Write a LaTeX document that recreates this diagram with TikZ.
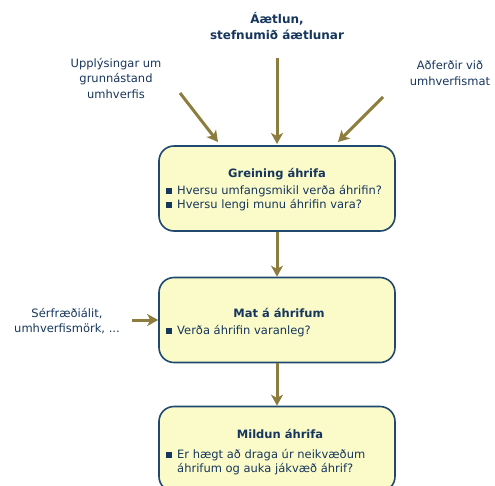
\documentclass[tikz,border=0pt]{standalone}
\usepackage{fontspec}
\setmainfont{DejaVu Sans}
\usetikzlibrary{arrows.meta}
\definecolor{navy}{RGB}{23,54,93}
\definecolor{boxline}{RGB}{31,73,110}
\definecolor{boxfill}{RGB}{250,251,200}
\definecolor{olive}{RGB}{140,125,62}
\tikzset{
  box/.style={draw=boxline, line width=1.6pt, fill=boxfill, rounded corners=15pt, minimum width=236pt, minimum height=85pt, inner sep=0pt},
  arr/.style={draw=olive, line width=3pt, -{Stealth[length=11pt,width=12pt,inset=3pt]}},
  lbl/.style={text=navy, font=\fontsize{11.5}{15.5}\selectfont, align=center, inner sep=0pt},
  ttl/.style={text=navy, font=\fontsize{11.5}{15.5}\selectfont\bfseries, inner sep=0pt, anchor=base},
  itm/.style={text=navy, font=\fontsize{11.5}{14}\selectfont, align=left, inner sep=0pt, anchor=base west},
}
\newcommand{\bul}{\textcolor{navy}{\rule[0.5pt]{6pt}{6pt}}\hspace{5pt}}
\begin{document}
\begin{tikzpicture}[x=1pt,y=-1pt]
\useasboundingbox (0,0) rectangle (495,485);
\clip (0,0) rectangle (495,485);
\node[box] (b1) at (277,188.5) {};
\node[box] (b2) at (277,320) {};
\node[box] (b3) at (277,449) {};
% texts
\node[lbl, font=\fontsize{12}{15.5}\selectfont\bfseries] (plan) at (277,26) {Áætlun,\\stefnumið áætlunar};
\node[lbl] (info) at (116,78) {Upplýsingar um\\grunnástand\\umhverfis};
\node[lbl] (meth) at (450,73) {Aðferðir við\\umhverfismat};
\node[lbl] (expert) at (67,321) {Sérfræðiálit,\\umhverfismörk, ...};
\node[ttl] (t1) at (277,177) {Greining áhrifa};
\node[itm] (i1) at (166,208) {\bul Hversu umfangsmikil verða áhrifin?\\\bul Hversu lengi munu áhrifin vara?};
\node[ttl] (t2) at (279,317) {Mat á áhrifum};
\node[itm] (i2) at (166,334) {\bul Verða áhrifin varanleg?};
\node[ttl] (t3) at (280,438) {Mildun áhrifa};
\node[itm] (i3) at (166,472) {\bul Er hægt að draga úr neikvæðum\\\hspace{11pt}áhrifum og auka jákvæð áhrif?};
% connector ends
\coordinate (sL) at (180,93);
\coordinate (eL) at (218,142);
\coordinate (sM) at (277,58);
\coordinate (eM) at (277,144);
\coordinate (sR) at (383,97);
\coordinate (eR) at (338,142);
\coordinate (sE) at (132,320);
\draw[arr] (sL) -- (eL);
\draw[arr] (sM) -- (eM);
\draw[arr] (sR) -- (eR);
\draw[arr] (sE) -- (b2.west);
\draw[arr] (b1.south) -- (b2.north);
\draw[arr] (b2.south) -- (b3.north);
\end{tikzpicture}
\end{document}
